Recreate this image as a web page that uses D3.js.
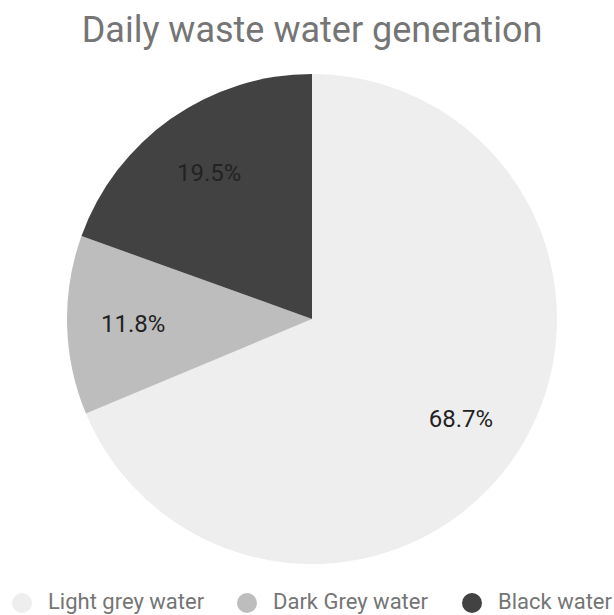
<!DOCTYPE html>
<html>
<head>
<meta charset="utf-8">
<script src="https://cdn.jsdelivr.net/npm/d3@7"></script>
<style>
  body { margin: 0; background: #fff; }
  svg { display: block; }
</style>
</head>
<body>
<svg id="chart"></svg>
<script>
const title = 'Daily waste water generation';
const categories = ['Light grey water', 'Dark Grey water', 'Black water'];
const values = [68.7, 11.8, 19.5];
const colors = ['#eeeeee', '#bdbdbd', '#424242'];

const width = 614;
const height = 615;
const cx = 312;
const cy = 319;
const radius = 245;

const svg = d3.select('#chart')
  .attr('width', width)
  .attr('height', height);

svg.append('text')
  .attr('x', 312)
  .attr('y', 42)
  .attr('text-anchor', 'middle')
  .attr('fill', '#757575')
  .attr('font-family', 'Roboto, Arial, sans-serif')
  .attr('font-size', 36)
  .text(title);

const pie = d3.pie().sort(null).value((d) => d.value);
const arcs = pie(categories.map((c, i) => ({ name: c, value: values[i] })));

const arc = d3.arc().innerRadius(0).outerRadius(radius);
const labelArc = d3.arc().innerRadius(radius * 0.73).outerRadius(radius * 0.73);

const g = svg.append('g').attr('transform', `translate(${cx},${cy})`);

g.selectAll('path')
  .data(arcs)
  .enter()
  .append('path')
  .attr('d', arc)
  .attr('fill', (d, i) => colors[i]);

g.selectAll('text')
  .data(arcs)
  .enter()
  .append('text')
  .attr('transform', (d) => `translate(${labelArc.centroid(d)})`)
  .attr('text-anchor', 'middle')
  .attr('dy', '0.35em')
  .attr('fill', '#222')
  .attr('font-family', 'Roboto, Arial, sans-serif')
  .attr('font-size', 24)
  .text((d) => d.data.value.toFixed(1) + '%');

// legend
const legendX = [22, 247, 472];
const legend = svg.append('g');
const item = legend.selectAll('g')
  .data(categories)
  .enter()
  .append('g')
  .attr('transform', (d, i) => `translate(${legendX[i]},603)`);

item.append('circle')
  .attr('r', 10)
  .attr('fill', (d, i) => colors[i]);

item.append('text')
  .attr('x', 26)
  .attr('y', 6)
  .attr('fill', '#757575')
  .attr('font-family', 'Roboto, Arial, sans-serif')
  .attr('font-size', 22)
  .text((d) => d);
</script>
</body>
</html>
